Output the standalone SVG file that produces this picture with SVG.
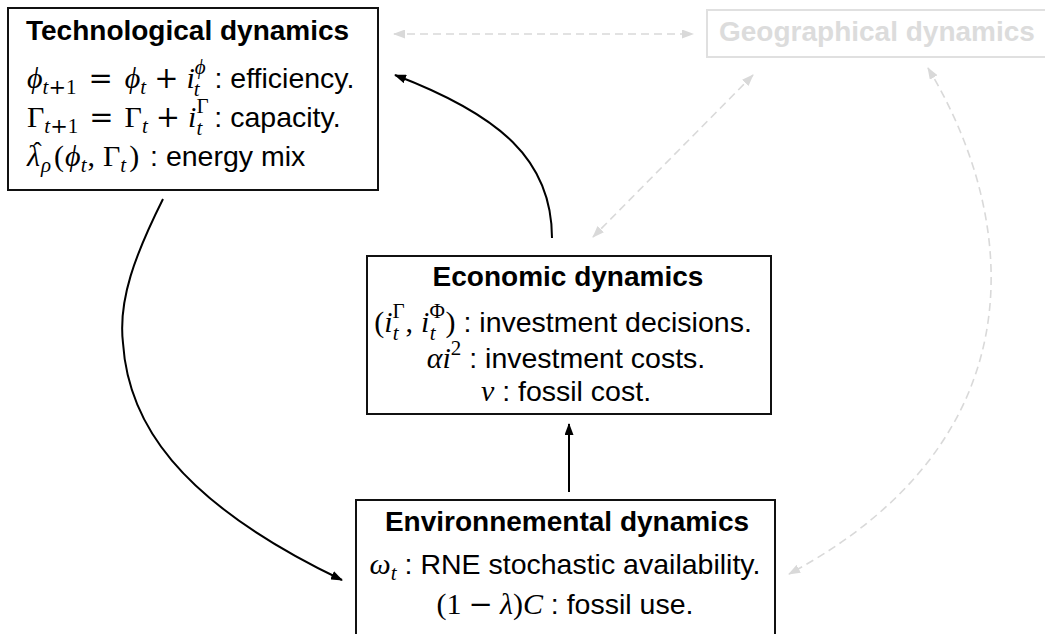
<svg xmlns="http://www.w3.org/2000/svg" width="1045" height="634" viewBox="0 0 1045 634">
  <defs>
    <style>
      .t  { font-family: "Liberation Sans", Arial, sans-serif; font-size: 28.5px; fill: #000; }
      .b  { font-weight: bold; font-size: 28px; }
      .mi { font-family: "Liberation Serif", "DejaVu Serif", serif; font-style: italic; font-size: 30px; }
      .mr { font-family: "Liberation Serif", "DejaVu Serif", serif; font-style: normal; font-size: 30px; }
      .op { font-family: "DejaVu Serif", serif; font-style: normal; font-size: 29px; }
      .s  { font-size: 21px; }
      .box { fill: #fff; stroke: #111; stroke-width: 2; }
      .ghost-box { fill: none; stroke: #e0e0e0; stroke-width: 2; }
      .ghost-text { fill: #dcdcdc; }
      .link { fill: none; stroke: #000; stroke-width: 2; }
      .ghost-link { fill: none; stroke: #d9d9d9; stroke-width: 1.6; stroke-dasharray: 8 5; }
    </style>
    <marker id="head" viewBox="0 0 12 9" refX="11" refY="4.5" markerWidth="12" markerHeight="9" markerUnits="userSpaceOnUse" orient="auto">
      <path d="M0,0 L12,4.5 L0,9 z" fill="#000"/>
    </marker>
    <marker id="ghost-head" viewBox="0 0 12 9" refX="11" refY="4.5" markerWidth="12" markerHeight="9" markerUnits="userSpaceOnUse" orient="auto-start-reverse">
      <path d="M0,0 L12,4.5 L0,9 z" fill="#d9d9d9"/>
    </marker>
  </defs>

  <rect width="1045" height="634" fill="#fff"/>

  <!-- connectors -->
  <g id="connectors">
    <path class="link" d="M163,199 C135,255 118,300 123,343 C128,420 175,500 342,580" marker-end="url(#head)"/>
    <path class="link" d="M552,238 C552,160 500,115 395,75" marker-end="url(#head)"/>
    <path class="link" d="M569,492 L569,424" marker-end="url(#head)"/>
    <path class="ghost-link" d="M394,34 L693,34" marker-start="url(#ghost-head)" marker-end="url(#ghost-head)"/>
    <path class="ghost-link" d="M753,75 L593,237" marker-start="url(#ghost-head)" marker-end="url(#ghost-head)"/>
    <path class="ghost-link" d="M928,68 C1020,220 1040,440 789,574" marker-start="url(#ghost-head)" marker-end="url(#ghost-head)"/>
  </g>

  <!-- technological dynamics -->
  <g id="technological">
    <rect class="box" x="8" y="8" width="370" height="182"/>
    <text class="t b" x="26" y="40">Technological dynamics</text>
    <text class="t" x="27" y="88"><tspan class="mi">ϕ</tspan><tspan class="mi s" dy="6">t</tspan><tspan class="op s">+</tspan><tspan class="mr s">1</tspan><tspan class="op" dx="12" dy="-6">=</tspan><tspan class="mi" dx="12">ϕ</tspan><tspan class="mi s" dy="6">t</tspan><tspan class="op" dx="8" dy="-6">+</tspan><tspan class="mi" dx="8">i</tspan><tspan class="mi s" dy="-14">ϕ</tspan><tspan class="mi s" dx="-12" dy="22">t</tspan><tspan dx="7" dy="-8"> : efficiency.</tspan></text>
    <text class="t" x="27" y="127"><tspan class="mr">Γ</tspan><tspan class="mi s" dy="6">t</tspan><tspan class="op s">+</tspan><tspan class="mr s">1</tspan><tspan class="op" dx="11" dy="-6">=</tspan><tspan class="mr" dx="11">Γ</tspan><tspan class="mi s" dy="6">t</tspan><tspan class="op" dx="8" dy="-6">+</tspan><tspan class="mi" dx="8">i</tspan><tspan class="mr s" dy="-14">Γ</tspan><tspan class="mi s" dx="-12" dy="22">t</tspan><tspan dx="4" dy="-8"> : capacity.</tspan></text>
    <text class="t" x="27" y="166"><tspan class="mi">λ</tspan><tspan class="mi s" dx="1" dy="6">ρ</tspan><tspan class="mr" dx="3" dy="-6">(</tspan><tspan class="mi" dx="1">ϕ</tspan><tspan class="mi s" dy="6">t</tspan><tspan class="mr" dx="1" dy="-6">,</tspan><tspan class="mr" dx="8">Γ</tspan><tspan class="mi s" dy="6">t</tspan><tspan class="mr" dx="3" dy="-6">)</tspan><tspan dx="3"> : energy mix</tspan></text>
    <text class="mr" x="33" y="160" style="font-size:26px">ˆ</text>
  </g>

  <!-- geographical dynamics (faded) -->
  <g id="geographical">
    <rect class="ghost-box" x="707" y="10" width="345" height="47"/>
    <text class="t b ghost-text" x="719" y="41">Geographical dynamics</text>
  </g>

  <!-- economic dynamics -->
  <g id="economic">
    <rect class="box" x="367" y="256" width="404" height="158"/>
    <text class="t b" x="568" y="286" text-anchor="middle">Economic dynamics</text>
    <text class="t" x="563" y="332" text-anchor="middle"><tspan class="mr">(</tspan><tspan class="mi">i</tspan><tspan class="mr s" dy="-14">Γ</tspan><tspan class="mi s" dx="-12" dy="22">t</tspan><tspan class="mr" dx="7" dy="-8">,</tspan><tspan class="mi" dx="8">i</tspan><tspan class="mr s" dy="-14">Φ</tspan><tspan class="mi s" dx="-15" dy="22">t</tspan><tspan class="mr" dx="10" dy="-8">)</tspan><tspan> : investment decisions.</tspan></text>
    <text class="t" x="566" y="368" text-anchor="middle"><tspan class="mi">αi</tspan><tspan class="mr s" dy="-13">2</tspan><tspan dy="13"> : investment costs.</tspan></text>
    <text class="t" x="566" y="401" text-anchor="middle"><tspan class="mi">ν</tspan><tspan> : fossil cost.</tspan></text>
  </g>

  <!-- environnemental dynamics -->
  <g id="environnemental">
    <rect class="box" x="356" y="500" width="419" height="145"/>
    <text class="t b" x="567" y="531" text-anchor="middle">Environnemental dynamics</text>
    <text class="t" x="565" y="574" text-anchor="middle"><tspan class="mi">ω</tspan><tspan class="mi s" dy="6">t</tspan><tspan dy="-6"> : RNE stochastic availability.</tspan></text>
    <text class="t" x="565" y="614" text-anchor="middle"><tspan class="mr">(1</tspan><tspan class="op" dx="7">−</tspan><tspan class="mi" dx="7">λ</tspan><tspan class="mr">)</tspan><tspan class="mi">C</tspan><tspan> : fossil use.</tspan></text>
  </g>
</svg>
